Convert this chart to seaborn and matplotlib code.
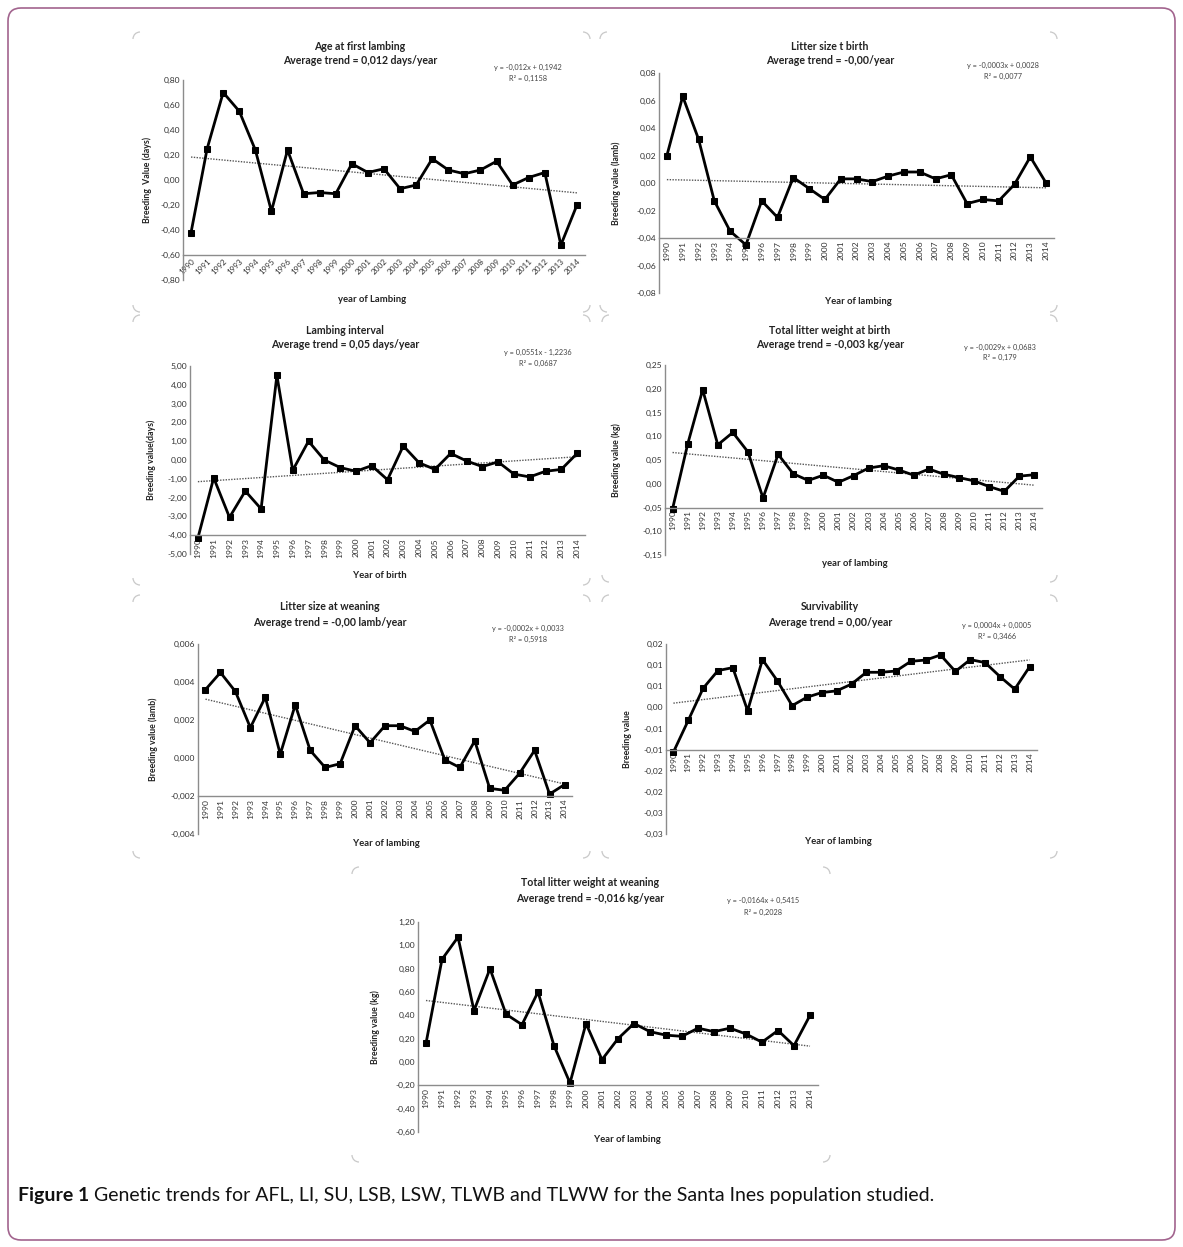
import matplotlib.pyplot as plt
import matplotlib.patches as mpatches
import numpy as np
import seaborn as sns

# years of lambing / birth
years = [str(y) for y in range(1990, 2015)]

# breeding values
afl = [-0.42, 0.25, 0.70, 0.55, 0.24, -0.25, 0.24, -0.11, -0.10, -0.11, 0.13, 0.06, 0.09,
       -0.07, -0.04, 0.17, 0.08, 0.05, 0.08, 0.15, -0.04, 0.02, 0.06, -0.52, -0.20]
lsb = [0.020, 0.063, 0.032, -0.013, -0.035, -0.045, -0.013, -0.025, 0.004, -0.004, -0.012,
       0.003, 0.003, 0.001, 0.005, 0.008, 0.008, 0.003, 0.006, -0.015, -0.012, -0.013,
       -0.001, 0.019, 0.000]
li = [-4.15, -0.95, -3.05, -1.65, -2.60, 4.50, -0.55, 1.00, 0.00, -0.40, -0.60, -0.30, -1.05,
      0.75, -0.15, -0.50, 0.35, -0.05, -0.35, -0.10, -0.75, -0.90, -0.60, -0.50, 0.35]
tlwb = [-0.053, 0.083, 0.198, 0.082, 0.108, 0.067, -0.030, 0.062, 0.021, 0.007, 0.018, 0.003,
        0.017, 0.033, 0.038, 0.029, 0.018, 0.031, 0.020, 0.013, 0.006, -0.006, -0.016, 0.016,
        0.019]
lsw = [0.0036, 0.0045, 0.0035, 0.0016, 0.0032, 0.0002, 0.0028, 0.0004, -0.0005, -0.0003,
       0.0017, 0.0008, 0.0017, 0.0017, 0.0014, 0.0020, -0.0001, -0.0005, 0.0009, -0.0016,
       -0.0017, -0.0008, 0.0004, -0.0019, -0.0014]
su = [-0.0106, -0.0031, 0.0045, 0.0087, 0.0094, -0.0008, 0.0113, 0.0063, 0.0004, 0.0024,
      0.0035, 0.0039, 0.0055, 0.0083, 0.0083, 0.0086, 0.0109, 0.0112, 0.0124, 0.0085, 0.0113,
      0.0106, 0.0073, 0.0043, 0.0096]
tlww = [0.16, 0.88, 1.07, 0.44, 0.80, 0.41, 0.32, 0.60, 0.14, -0.18, 0.33, 0.02, 0.20, 0.33,
        0.26, 0.23, 0.22, 0.29, 0.26, 0.29, 0.24, 0.17, 0.27, 0.14, 0.40]

# y tick values and labels as printed
afl_ticks = [-0.8, -0.6, -0.4, -0.2, 0.0, 0.2, 0.4, 0.6, 0.8]
afl_labels = ["-0,80", "-0,60", "-0,40", "-0,20", "0,00", "0,20", "0,40", "0,60", "0,80"]
lsb_ticks = [-0.08, -0.06, -0.04, -0.02, 0.0, 0.02, 0.04, 0.06, 0.08]
lsb_labels = ["-0,08", "-0,06", "-0,04", "-0,02", "0,00", "0,02", "0,04", "0,06", "0,08"]
li_ticks = [-5, -4, -3, -2, -1, 0, 1, 2, 3, 4, 5]
li_labels = ["-5,00", "-4,00", "-3,00", "-2,00", "-1,00", "0,00", "1,00", "2,00", "3,00",
             "4,00", "5,00"]
tlwb_ticks = [-0.15, -0.10, -0.05, 0.0, 0.05, 0.10, 0.15, 0.20, 0.25]
tlwb_labels = ["-0,15", "-0,10", "-0,05", "0,00", "0,05", "0,10", "0,15", "0,20", "0,25"]
lsw_ticks = [-0.004, -0.002, 0.0, 0.002, 0.004, 0.006]
lsw_labels = ["-0,004", "-0,002", "0,000", "0,002", "0,004", "0,006"]
su_ticks = [-0.030, -0.025, -0.020, -0.015, -0.010, -0.005, 0.0, 0.005, 0.010, 0.015]
su_labels = ["-0,03", "-0,03", "-0,02", "-0,02", "-0,01", "-0,01", "0,00", "0,01", "0,01", "0,02"]
tlww_ticks = [-0.6, -0.4, -0.2, 0.0, 0.2, 0.4, 0.6, 0.8, 1.0, 1.2]
tlww_labels = ["-0,60", "-0,40", "-0,20", "0,00", "0,20", "0,40", "0,60", "0,80", "1,00", "1,20"]

W, H = 1183, 1247
sns.set_style("white")
plt.rcParams['font.family'] = ['Lato', 'DejaVu Sans']

fig = plt.figure(figsize=(W / 100, H / 100), dpi=100)

# overlay in pixel coordinates for frame, corners and texts
ov = fig.add_axes([0, 0, 1, 1], zorder=-1)
ov.set_xlim(0, W)
ov.set_ylim(H, 0)
ov.axis('off')

ov.add_patch(mpatches.FancyBboxPatch((8, 8), 1167, 1232,
                                     boxstyle="round,pad=0,rounding_size=13",
                                     fc='none', ec='#a2648e', lw=1.2))

# panel boxes: left, top, right, bottom (pixels)
boxes = [(133, 32, 590, 312), (600, 32, 1057, 312), (133, 315, 590, 585),
         (602, 315, 1057, 582), (133, 595, 590, 858), (602, 595, 1057, 858),
         (352, 867, 830, 1162)]
r = 7
for (l, t, rr, b) in boxes:
    for cx, cy, th1 in [(l + r, t + r, 180), (rr - r, t + r, 270),
                        (rr - r, b - r, 0), (l + r, b - r, 90)]:
        ov.add_patch(mpatches.Arc((cx, cy), 2 * r, 2 * r, theta1=th1, theta2=th1 + 90,
                                  color='#c8c8c8', lw=0.9))

panels = [
    dict(vals=afl, ticks=afl_ticks, labels=afl_labels, cross=-0.6, rot=45,
         ax=(183, 80, 585, 280), t1="Age at first lambing",
         t2="Average trend = 0,012 days/year", tc=(360, 46, 61),
         e1="y = -0,012x + 0,1942", e2="R² = 0,1158", ec=(528, 67, 78),
         yl="Breeding  Value (days)", ylx=147, xl="year of Lambing", xlp=(372, 300)),
    dict(vals=lsb, ticks=lsb_ticks, labels=lsb_labels, cross=-0.04, rot=90,
         ax=(659, 73, 1054, 293), t1="Litter size t birth",
         t2="Average trend = -0,00/year", tc=(830, 46, 61),
         e1="y = -0,0003x + 0,0028", e2="R² = 0,0077", ec=(1003, 65, 76),
         yl="Breeding value (lamb)", ylx=616, xl="Year of lambing", xlp=(858, 302)),
    dict(vals=li, ticks=li_ticks, labels=li_labels, cross=-4.0, rot=90,
         ax=(190, 366, 585, 554), t1="Lambing interval",
         t2="Average trend = 0,05 days/year", tc=(345, 330, 345),
         e1="y = 0,0551x - 1,2236", e2="R² = 0,0687", ec=(538, 352, 363),
         yl="Breeding value(days)", ylx=151, xl="Year of birth", xlp=(380, 575)),
    dict(vals=tlwb, ticks=tlwb_ticks, labels=tlwb_labels, cross=-0.05, rot=90,
         ax=(665, 365, 1042, 555), t1="Total litter weight at birth",
         t2="Average trend = -0,003 kg/year", tc=(830, 330, 345),
         e1="y = -0,0029x + 0,0683", e2="R² = 0,179", ec=(1000, 347, 357),
         yl="Breeding value (kg)", ylx=616, xl="year of lambing", xlp=(855, 564)),
    dict(vals=lsw, ticks=lsw_ticks, labels=lsw_labels, cross=-0.002, rot=90,
         ax=(198, 644, 572, 834), t1="Litter size at weaning",
         t2="Average trend = -0,00 lamb/year", tc=(330, 607, 623),
         e1="y = -0,0002x + 0,0033", e2="R² = 0,5918", ec=(528, 628, 639),
         yl="Breeding value (lamb)", ylx=153, xl="Year of lambing", xlp=(386, 844)),
    dict(vals=su, ticks=su_ticks, labels=su_labels, cross=-0.010, rot=90,
         ax=(666, 644, 1037, 834), t1="Survivability",
         t2="Average trend = 0,00/year", tc=(830, 607, 623),
         e1="y = 0,0004x + 0,0005", e2="R² = 0,3466", ec=(997, 625, 636),
         yl="Breeding value", ylx=628, xl="Year of lambing", xlp=(838, 842)),
    dict(vals=tlww, ticks=tlww_ticks, labels=tlww_labels, cross=-0.2, rot=90,
         ax=(418, 922, 818, 1132), t1="Total litter weight at weaning",
         t2="Average trend = -0,016 kg/year", tc=(590, 882, 898),
         e1="y = -0,0164x + 0,5415", e2="R² = 0,2028", ec=(763, 900, 912),
         yl="Breeding value (kg)", ylx=375, xl="Year of lambing", xlp=(627, 1140)),
]

pos = np.arange(len(years))
tick_col = '#333333'

for p in panels:
    l, t, rr, b = p['ax']
    ax = fig.add_axes([l / W, 1 - b / H, (rr - l) / W, (b - t) / H])
    ax.set_facecolor('none')
    sns.regplot(x=pos, y=p['vals'], ax=ax, scatter=False, ci=None, truncate=True,
                line_kws=dict(color='#555555', lw=1.0, ls=(0, (1, 1))))
    sns.lineplot(x=pos, y=p['vals'], ax=ax, color='black', lw=2.0, marker='s',
                 markersize=4.8, markeredgecolor='black')
    # move the x axis to the crossing value first (this resets tick styling)
    ax.spines['bottom'].set_position(('data', p['cross']))
    for s in ['top', 'right']:
        ax.spines[s].set_visible(False)
    for s in ['left', 'bottom']:
        ax.spines[s].set_color('#8c8c8c')
        ax.spines[s].set_linewidth(1.0)
    ax.set_xlim(-0.5, len(years) - 0.5)
    ax.set_ylim(p['ticks'][0], p['ticks'][-1])
    ax.set_yticks(p['ticks'])
    ax.set_yticklabels(p['labels'], fontsize=6.1, color=tick_col)
    ax.set_xticks(pos)
    if p['rot'] == 45:
        ax.set_xticklabels(years, rotation=45, ha='right', rotation_mode='anchor',
                           fontsize=5.9, color=tick_col)
    else:
        ax.set_xticklabels(years, rotation=90, fontsize=6.1, color=tick_col)
    ax.tick_params(length=0, pad=2)
    ax.set_xlabel('')
    ax.set_ylabel('')

    cx, y1, y2 = p['tc']
    ov.text(cx, y1, p['t1'], ha='center', va='center', fontsize=7.6, fontweight='bold',
            color='#222222')
    ov.text(cx, y2, p['t2'], ha='center', va='center', fontsize=7.6, fontweight='bold',
            color='#222222')
    ex, e1y, e2y = p['ec']
    ov.text(ex, e1y, p['e1'], ha='center', va='center', fontsize=5.3, color='#444444')
    ov.text(ex, e2y, p['e2'], ha='center', va='center', fontsize=5.3, color='#444444')
    ov.text(p['ylx'], (t + b) / 2, p['yl'], ha='center', va='center', rotation=90,
            fontsize=6.3, fontweight='bold', color='#222222')
    ov.text(p['xlp'][0], p['xlp'][1], p['xl'], ha='center', va='center', fontsize=6.8,
            fontweight='bold', color='#222222')

# caption
cap1 = ov.text(18, 1195, "Figure 1", ha='left', va='center', fontsize=14,
               fontweight='bold', color='#111111')
fig.canvas.draw()
bb = cap1.get_window_extent()
ov.text(bb.x1 + 5, 1195, "Genetic trends for AFL, LI, SU, LSB, LSW, TLWB and TLWW for the Santa Ines population studied.",
        ha='left', va='center', fontsize=14, color='#111111')

fig.savefig('out.png', dpi=100)
